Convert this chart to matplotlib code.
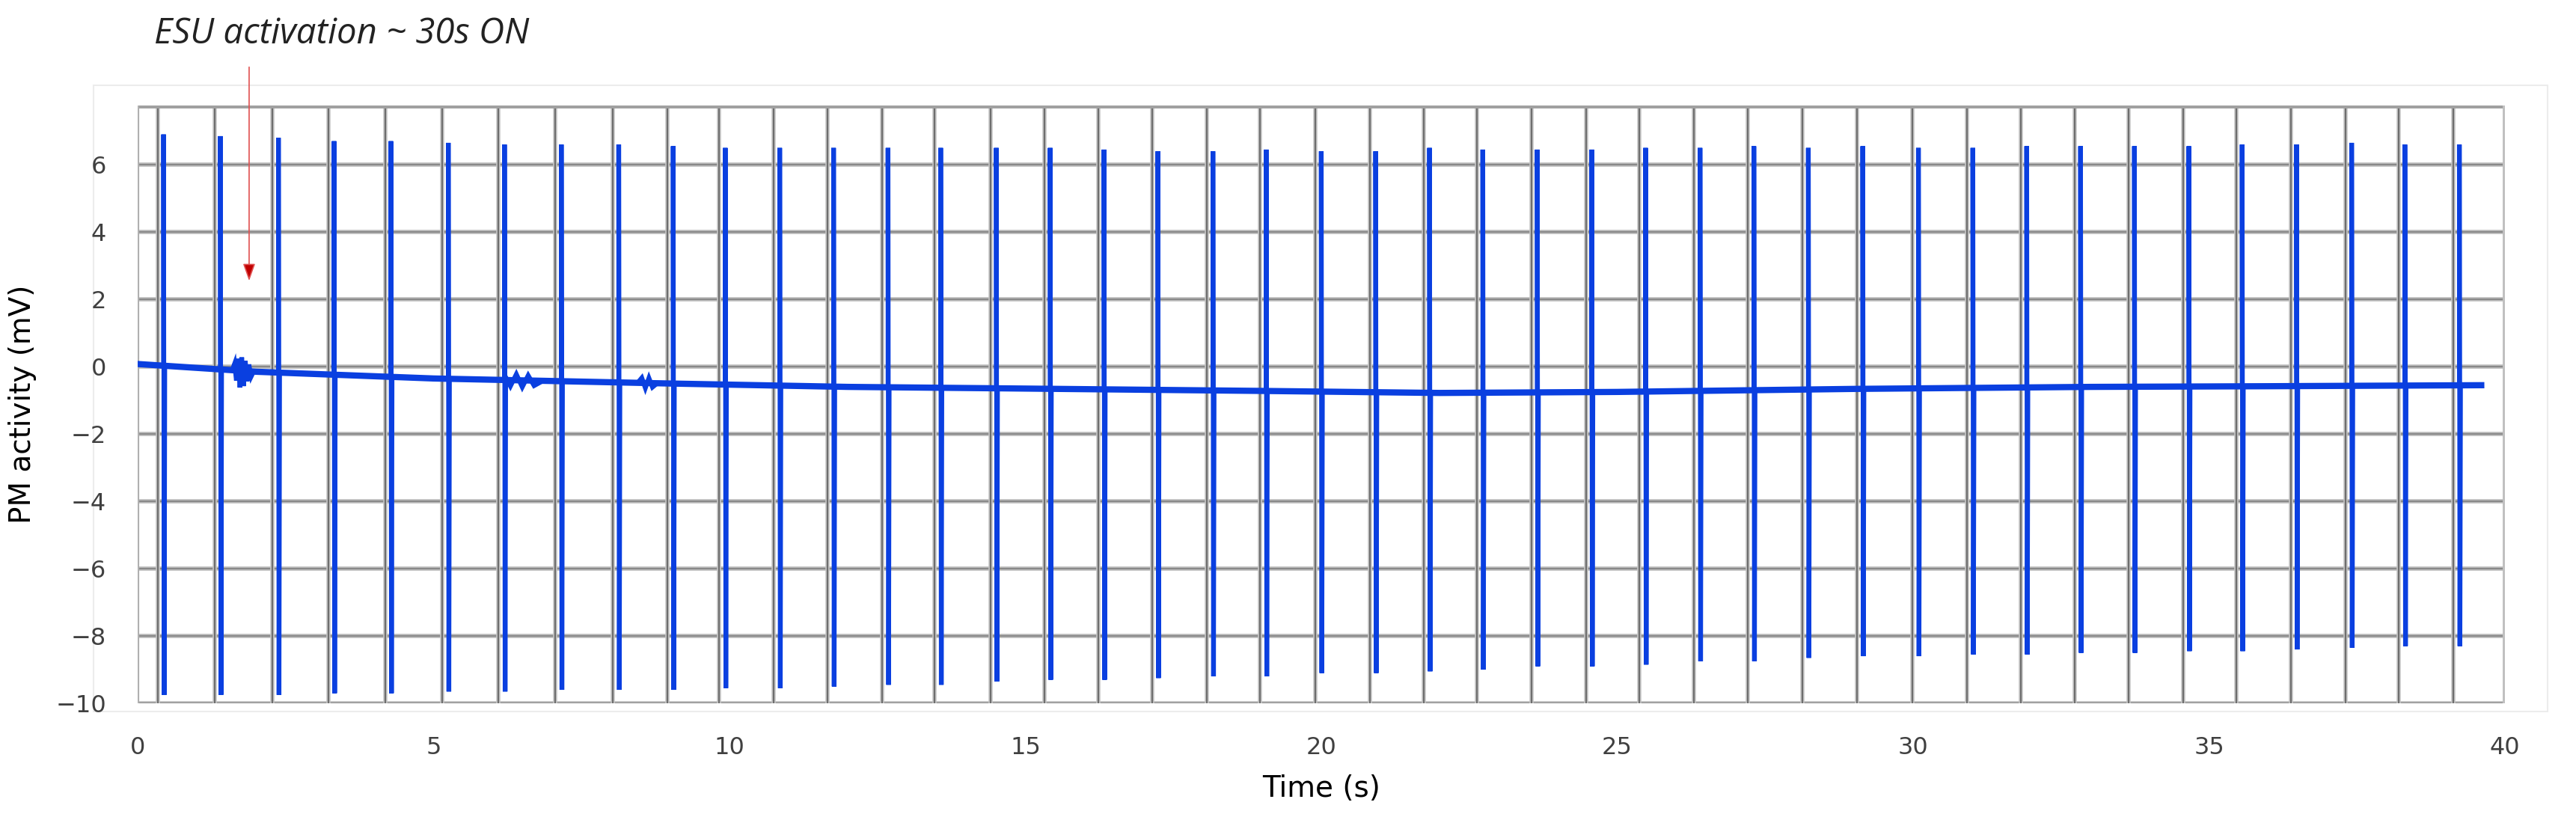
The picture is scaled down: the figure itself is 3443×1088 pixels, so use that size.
import numpy as np
import matplotlib
matplotlib.use("Agg")
import matplotlib.pyplot as plt
from matplotlib.patches import Rectangle

# pacing spikes (s, mV)
spike_t = [0.44, 1.40, 2.38, 3.32, 4.28, 5.25, 6.20, 7.16, 8.13, 9.05,
           9.93, 10.85, 11.76, 12.68, 13.57, 14.51, 15.42, 16.33, 17.24, 18.17,
           19.07, 20.00, 20.92, 21.83, 22.73, 23.65, 24.57, 25.48, 26.40, 27.31,
           28.23, 29.15, 30.09, 31.01, 31.92, 32.83, 33.74, 34.66, 35.56, 36.48,
           37.41, 38.31, 39.23]
spike_top = [6.9, 6.85, 6.8, 6.7, 6.7, 6.65, 6.6, 6.6, 6.6, 6.55,
             6.5, 6.5, 6.5, 6.5, 6.5, 6.5, 6.5, 6.45, 6.4, 6.4,
             6.45, 6.4, 6.4, 6.5, 6.45, 6.45, 6.45, 6.5, 6.5, 6.55,
             6.5, 6.55, 6.5, 6.5, 6.55, 6.55, 6.55, 6.55, 6.6, 6.6,
             6.65, 6.6, 6.6]
spike_bot = [-9.75, -9.75, -9.75, -9.7, -9.7, -9.65, -9.65, -9.6, -9.6, -9.6,
             -9.55, -9.55, -9.5, -9.45, -9.45, -9.35, -9.3, -9.3, -9.25, -9.2,
             -9.2, -9.1, -9.1, -9.05, -9.0, -8.9, -8.9, -8.85, -8.75, -8.75,
             -8.65, -8.6, -8.6, -8.55, -8.55, -8.5, -8.5, -8.45, -8.45, -8.4,
             -8.35, -8.3, -8.3]

# slow baseline drift (s, mV)
base_t = [0, 2, 5, 9, 12, 15, 19, 22, 25, 29, 33, 36, 39.6]
base_v = [0.08, -0.15, -0.35, -0.5, -0.6, -0.65, -0.72, -0.78, -0.75, -0.66, -0.6, -0.58, -0.55]

# ESU bursts riding on baseline: (time, offset)
burst_t = [1.60, 1.64, 1.67, 1.70, 1.73, 1.76, 1.79, 1.82, 1.85, 1.88, 1.92, 1.96,
           6.1, 6.2, 6.3, 6.4, 6.5, 6.6, 6.7, 6.85,
           8.45, 8.52, 8.58, 8.64, 8.70, 8.78]
burst_off = [0.0, 0.2, -0.3, 0.35, -0.5, 0.4, -0.45, 0.3, -0.3, 0.2, -0.15, 0.0,
             0.0, 0.15, -0.18, 0.18, -0.2, 0.15, -0.15, 0.0,
             0.0, 0.15, -0.15, 0.15, -0.12, 0.0]

blue = "#0a3fe0"
grid_off = 0.1

fig = plt.figure(figsize=(34.43, 10.88), dpi=100)
ax = fig.add_axes([0.0534, 0.136, 0.9190, 0.734])

# trace: baseline with spikes and bursts inserted in time order
events = [(t, None) for t in spike_t] + list(zip(burst_t, burst_off))
xs, ys = [base_t[0]], [base_v[0]]
for t, off in sorted(events, key=lambda e: e[0]):
    b = np.interp(t, base_t, base_v)
    if off is None:
        i = spike_t.index(t)
        xs += [t, t, t + 0.01, t + 0.02]
        ys += [b, spike_top[i], spike_bot[i], b]
    else:
        xs.append(t); ys.append(b + off)
xs.append(base_t[-1]); ys.append(base_v[-1])
ax.plot(xs, ys, color=blue, lw=4.5, solid_joinstyle="miter", zorder=3)
ax.plot(base_t, base_v, color=blue, lw=6, zorder=3)

# gridlines
for yv in range(-10, 7, 2):
    ax.axhline(yv, color="#b8b8b8", lw=4, zorder=1)
    ax.axhline(yv, color="#808080", lw=1.2, zorder=1)
for t in spike_t:
    ax.axvline(t - grid_off, color="#c4c4c4", lw=4, zorder=1)
    ax.axvline(t - grid_off, color="#6e6e6e", lw=1.6, zorder=1)
ax.axhline(7.75, color="#a0a0a0", lw=5, zorder=1)
ax.axvline(40, color="#c0c0c0", lw=5, zorder=1)
ax.axvline(0, color="#b0b0b0", lw=3, zorder=1)

ax.set_xlim(0, 40)
ax.set_ylim(-10, 7.75)
ax.set_xticks(range(0, 41, 5))
ax.set_yticks(range(-10, 7, 2))
for s in ax.spines.values():
    s.set_visible(False)
ax.tick_params(length=0, labelsize=23, colors="#404040")
ax.tick_params(axis="y", pad=30)
ax.tick_params(axis="x", pad=32)
ax.set_xlabel("Time (s)", fontsize=28, labelpad=14)
ax.set_ylabel("PM activity (mV)", fontsize=28, labelpad=18)

# outer chart frame, faint, behind everything
fig.add_artist(Rectangle((125 / 3443, 1 - 951 / 1088), (3405 - 125) / 3443, (951 - 114) / 1088,
                         transform=fig.transFigure, fill=False, ec="#ececec", lw=1.5,
                         zorder=-5))

ax.annotate("", xy=(1.885, 2.55), xytext=(1.885, 8.9), annotation_clip=False,
            arrowprops=dict(arrowstyle="-|>,head_length=1.4,head_width=0.5",
                            color="#e05050", lw=1.2, shrinkA=0, shrinkB=0,
                            fc="#c00000"), zorder=4)
ax.text(0.28, 9.88, "ESU activation ~ 30s ON", fontsize=34, style="italic",
        family="Open Sans", color="#222222", va="center", ha="left", clip_on=False)

fig.savefig("out.png", dpi=100)
